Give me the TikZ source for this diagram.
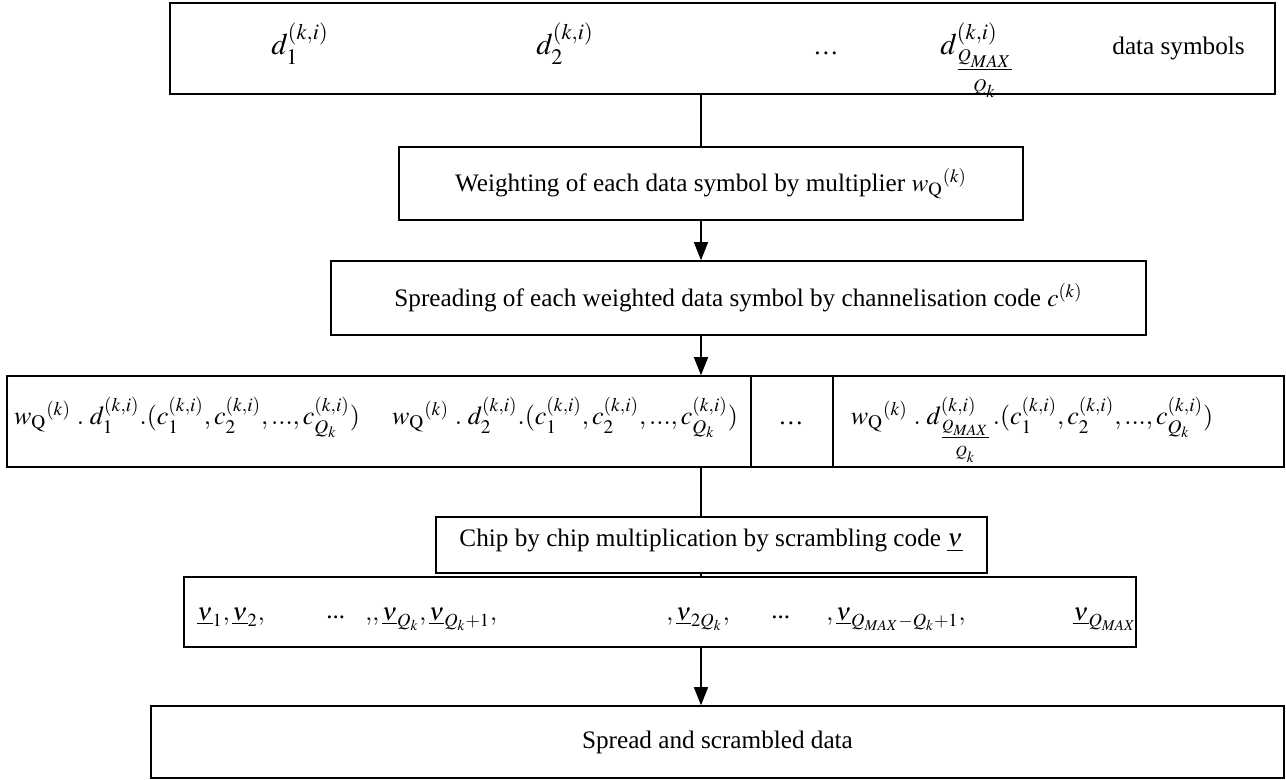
\documentclass[tikz,border=0pt]{standalone}
\usepackage{mathptmx}
\usepackage{fontspec}
\setmainfont{Liberation Serif}
\usetikzlibrary{arrows.meta,fit}
\begin{document}
\begin{tikzpicture}[x=0.5pt,y=-0.5pt,
  box/.style={draw,line width=0.8pt,inner sep=0pt},
  conn/.style={line width=0.7pt},
  arr/.style={line width=0.7pt,-{Triangle[length=9pt,width=7pt]}},
  txt/.style={inner sep=0pt,font=\fontsize{12.6}{14}\selectfont},
  bigm/.style={inner sep=0pt,anchor=base,font=\fontsize{15}{17}\selectfont},
  midm/.style={inner sep=0pt,anchor=base,font=\fontsize{13}{15}\selectfont},
  seqm/.style={inner sep=0pt,anchor=base west,font=\fontsize{12.5}{14}\selectfont}]
\useasboundingbox (0,0) rectangle (1286,780);
% box corners
\coordinate (t1) at (170,3);   \coordinate (t2) at (1275,94);
\coordinate (w1) at (399,147); \coordinate (w2) at (1023,220);
\coordinate (s1) at (331,261); \coordinate (s2) at (1146,335);
\coordinate (f1) at (7,376);   \coordinate (f2) at (751,467);
\coordinate (g1) at (751,376); \coordinate (g2) at (833,467);
\coordinate (h1) at (833,376); \coordinate (h2) at (1284,467);
\coordinate (c1) at (436,517); \coordinate (c2) at (987,573);
\coordinate (q1) at (184,577); \coordinate (q2) at (1136,647);
\coordinate (e1) at (151,706); \coordinate (e2) at (1284,778);
\coordinate (axis) at (701,0);
\node[box,fit=(t1)(t2)] (top) {};
\node[box,fit=(w1)(w2)] (weight) {};
\node[box,fit=(s1)(s2)] (spread) {};
\node[box,fit=(f1)(f2)] (prodA) {};
\node[box,fit=(g1)(g2)] (prodB) {};
\node[box,fit=(h1)(h2)] (prodC) {};
\node[box,fit=(q1)(q2)] (seq) {};
\node[box,fit=(e1)(e2)] (final) {};
% connectors
\draw[conn] (axis |- top.south) -- (axis |- weight.north);
\draw[arr] (axis |- weight.south) -- (axis |- spread.north);
\draw[arr] (axis |- spread.south) -- (axis |- prodA.north);
\draw[conn] (axis |- prodA.south) -- (axis |- seq.north);
\draw[arr] (axis |- seq.south) -- (axis |- final.north);
\node[box,fit=(c1)(c2),fill=white] (chip) {};
% top box texts
\node[bigm] (d1) at (300,55) {$d_1^{(k,i)}$};
\node[bigm] (d2) at (565,55) {$d_2^{(k,i)}$};
\node[txt,anchor=base] (dd) at (826,55) {\dots};
\node[bigm] (dq) at (978,55) {$d^{(k,i)}_{\textstyle\frac{{}_{Q_{MAX}}}{{}_{Q_k}}}$};
\node[txt,anchor=base west] (ds) at (1112,55) {data symbols};
% middle boxes
\node[txt] at (weight.center) {Weighting of each data symbol by multiplier $w_{\mathrm{Q}}{}^{(k)}$};
\node[txt] at (spread.center) {Spreading of each weighted data symbol by channelisation code $c^{(k)}$};
% products
\node[midm] at (187,425) {$w_{\mathrm{Q}}{}^{(k)}\;.\;d_1^{(k,i)}.(c_1^{(k,i)},c_2^{(k,i)},...,c_{Q_k}^{(k,i)})$};
\node[midm] at (565,425) {$w_{\mathrm{Q}}{}^{(k)}\;.\;d_2^{(k,i)}.(c_1^{(k,i)},c_2^{(k,i)},...,c_{Q_k}^{(k,i)})$};
\node[txt,anchor=base] at (791,425) {\dots};
\node[midm] at (1032,425) {$w_{\mathrm{Q}}{}^{(k)}\;.\;d^{(k,i)}_{\textstyle\frac{{}_{Q_{MAX}}}{{}_{Q_k}}}.(c_1^{(k,i)},c_2^{(k,i)},...,c_{Q_k}^{(k,i)})$};
% chip
\node[txt,anchor=base] at (711,547) {Chip by chip multiplication by scrambling code $\underline{\mathrm{\nu}}$};
% sequence
\node[seqm] at (197,620) {$\underline{\nu}_1,\underline{\nu}_2,$};
\node[seqm] at (326,618) {...};
\node[seqm] at (365,620) {$,\!,\underline{\nu}_{Q_k},\underline{\nu}_{Q_k+1},$};
\node[seqm] at (666,620) {$,\underline{\nu}_{2Q_k},$};
\node[seqm] at (771,618) {...};
\node[seqm] at (826,620) {$,\underline{\nu}_{Q_{MAX}-Q_k+1},$};
\node[seqm] at (1073,620) {$\underline{\nu}_{Q_{MAX}}$};
% final
\node[txt] at (final.center) {Spread and scrambled data};
\end{tikzpicture}
\end{document}
